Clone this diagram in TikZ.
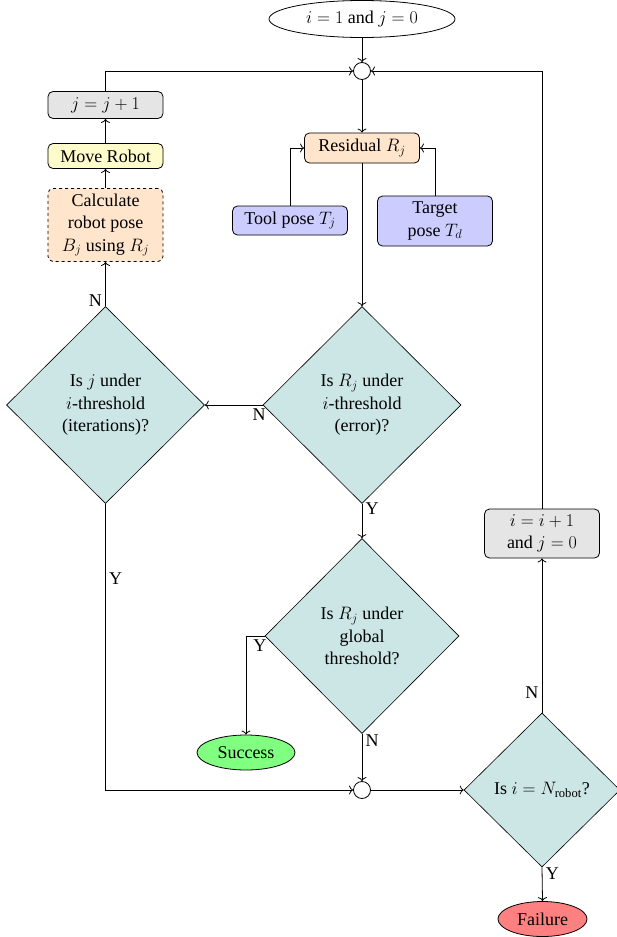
\RequirePackage{fix-cm}
\documentclass[tikz,border=0pt]{standalone}
\usepackage{amsmath}
\usepackage{fontspec}
\setmainfont{Liberation Serif}
\usetikzlibrary{shapes.geometric,arrows.meta}
\tikzset{
  box/.style={draw, rounded corners=5pt, minimum width=115pt, align=center, inner sep=3pt},
  dec/.style={diamond, draw, fill=teal!20, line width=0.6pt, inner sep=0pt, align=center},
  junc/.style={circle, draw, fill=white, minimum size=17pt, inner sep=0pt},
  term/.style={ellipse, draw, inner sep=0pt},
}
\begin{document}
\begin{tikzpicture}[x=1pt,y=-1pt, font=\fontsize{18}{22.5}\selectfont, line width=0.8pt, >={To[length=4pt,width=9pt]}]
\useasboundingbox (0,0) rectangle (616,937);
\node[term, minimum width=186pt, minimum height=37pt] (start) at (362,19) {$i=1$ and $j=0$};
\node[junc] (jt) at (362,71) {};
\node[box, fill=gray!20, minimum height=27pt] (jinc) at (105.5,105) {$j=j+1$};
\node[box, fill=yellow!20, minimum height=25pt] (move) at (105.5,156) {Move Robot};
\node[box, dashed, fill=orange!20, minimum height=73pt] (calc) at (105.5,225) {Calculate\\robot pose\\$B_j$ using $R_j$};
\node[box, fill=orange!20, minimum height=30pt] (res) at (362,148) {Residual $R_j$};
\node[box, fill=blue!20, minimum height=29pt] (tool) at (290,220.5) {Tool pose $T_j$};
\node[box, fill=blue!20, minimum height=50pt] (target) at (435,221) {Target\\pose $T_d$};
\node[dec, minimum width=198pt, minimum height=197pt] (d1) at (362,405) {Is $R_j$ under\\$i$-threshold\\(error)?};
\node[dec, minimum width=198pt, minimum height=197pt] (d2) at (105.5,405) {Is $j$ under\\$i$-threshold\\(iterations)?};
\node[dec, minimum width=194pt, minimum height=195pt] (d3) at (362,636) {Is $R_j$ under\\global\\threshold?};
\node[term, fill=green!50, minimum width=98pt, minimum height=35pt] (succ) at (246,752.5) {Success};
\node[junc] (jb) at (362,790) {};
\node[dec, minimum width=156pt, minimum height=154pt] (d4) at (542,790) {Is $i=N_{\text{robot}}$?};
\node[box, fill=gray!20, minimum height=49pt] (ibox) at (542,533.5) {$i=i+1$\\and $j=0$};
\node[term, fill=red!50, minimum width=89pt, minimum height=35pt] (fail) at (542.5,919) {Failure};

\draw[->] (start) -- (jt);
\draw[->] (jt) -- (res);
\draw[->] (tool.north) |- (res.west);
\draw[->] (target.north) |- (res.east);
\draw[->] (res) -- (d1);
\draw[->] (d1.west) -- node[pos=0.06, below]{N} (d2.east);
\draw[->] (d2.north) -- node[pos=0.12, left]{N} (calc.south);
\draw[->] (calc) -- (move);
\draw[->] (move) -- (jinc);
\draw[->] (jinc.north) |- (jt.west);
\draw[->] (d2.south) |- node[pos=0.13, right]{Y} (jb.west);
\draw[->] (d1.south) -- node[pos=0.15, right]{Y} (d3.north);
\draw[->] (d3.west) -| node[pos=0.13, below]{Y} (succ.north);
\draw[->] (d3.south) -- node[pos=0.15, right]{N} (jb.north);
\draw[->] (jb.east) -- (d4.west);
\draw[->] (d4.north) -- node[pos=0.13, left]{N} (ibox.south);
\draw[->] (ibox.north) |- (jt.east);
\draw[->] (d4.south) -- node[pos=0.2, right]{Y} (fail.north);
\end{tikzpicture}
\end{document}
